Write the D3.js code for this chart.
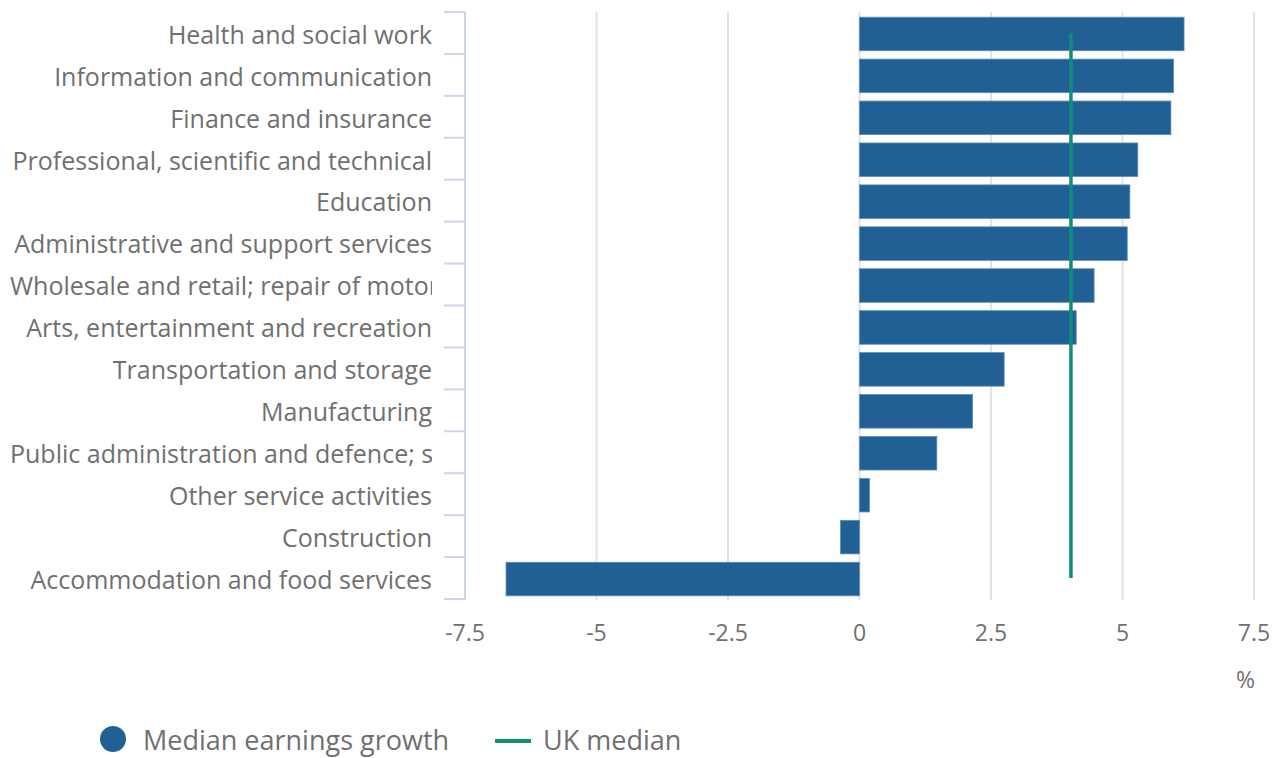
<!DOCTYPE html>
<html><head><meta charset="utf-8">
<script src="https://cdn.jsdelivr.net/npm/d3@7"></script>
<style>
body{margin:0;background:#fff;}
text{font-family:"Open Sans",sans-serif;}
</style></head>
<body><svg id="chart" width="1282" height="758"></svg>
<script>
const categories = [
  "Health and social work",
  "Information and communication",
  "Finance and insurance",
  "Professional, scientific and technical",
  "Education",
  "Administrative and support services",
  "Wholesale and retail; repair of motor vehicles and motorcycles",
  "Arts, entertainment and recreation",
  "Transportation and storage",
  "Manufacturing",
  "Public administration and defence; social security",
  "Other service activities",
  "Construction",
  "Accommodation and food services"
];
const growthValues = [6.17, 5.97, 5.92, 5.29, 5.14, 5.09, 4.46, 4.12, 2.75, 2.15, 1.47, 0.19, -0.36, -6.72];
const ukMedian = 4.02;
const xTicks = [-7.5, -5, -2.5, 0, 2.5, 5, 7.5];
const seriesNames = ["Median earnings growth", "UK median"];

const svg = d3.select("#chart");
const x = d3.scaleLinear().domain([-7.5, 7.5]).range([465, 1254]);
const y = d3.scaleBand().domain(categories).range([13, 600]).paddingInner(0.2).paddingOuter(0.1);
const band = d3.scaleBand().domain(categories).range([12, 599]);

// gridlines
svg.append("g").selectAll("line").data(xTicks).join("line")
  .attr("x1", d => x(d)).attr("x2", d => x(d))
  .attr("y1", 12).attr("y2", 600)
  .attr("stroke", "#e3e3e3").attr("stroke-width", 2);

// bars
svg.append("g").selectAll("rect").data(growthValues).join("rect")
  .attr("x", d => x(Math.min(0, d)))
  .attr("width", d => Math.abs(x(d) - x(0)))
  .attr("y", (d, i) => y(categories[i]))
  .attr("height", y.bandwidth())
  .attr("fill", "#206095")
  .attr("stroke", "#5f8cb8").attr("stroke-width", 0.8);

// UK median line
svg.append("line")
  .attr("x1", x(ukMedian)).attr("x2", x(ukMedian))
  .attr("y1", band(categories[0]) + band.bandwidth() / 2)
  .attr("y2", band(categories[categories.length - 1]) + band.bandwidth() / 2)
  .attr("stroke", "#118c7b").attr("stroke-width", 3.5);

// y axis
const yAxis = svg.append("g");
yAxis.append("line").attr("x1", 465).attr("x2", 465).attr("y1", 12).attr("y2", 599)
  .attr("stroke", "#ccd6eb").attr("stroke-width", 2);
const tickPos = band.domain().map(c => band(c)).concat([599]);
yAxis.selectAll("line.tk").data(tickPos).join("line").attr("class", "tk")
  .attr("x1", 444).attr("x2", 465).attr("y1", d => d).attr("y2", d => d)
  .attr("stroke", "#ccd6eb").attr("stroke-width", 2);

svg.append("clipPath").attr("id", "lblclip").append("rect")
  .attr("x", 0).attr("y", 0).attr("width", 432).attr("height", 620);
const lbl = svg.append("g").attr("clip-path", "url(#lblclip)");
lbl.selectAll("text").data(categories).join("text")
  .attr("x", 432).attr("y", d => band(d) + band.bandwidth() / 2 + 2)
  .attr("dy", "0.35em").attr("text-anchor", "end")
  .attr("font-size", 25).attr("fill", "#707070")
  .text(d => d)
  .each(function() {
    const w = this.getComputedTextLength();
    if (w > 423) d3.select(this).attr("x", 10).attr("text-anchor", "start");
  });

// x axis labels
svg.append("g").selectAll("text").data(xTicks).join("text")
  .attr("x", d => x(d)).attr("y", 633).attr("dy", "0.35em")
  .attr("text-anchor", "middle").attr("font-size", 23).attr("fill", "#707070")
  .text(d => String(d));
svg.append("text").attr("x", 1255).attr("y", 680).attr("dy", "0.35em")
  .attr("text-anchor", "end").attr("font-size", 23).attr("fill", "#707070").text("%");

// legend
const lg = svg.append("g");
lg.append("circle").attr("cx", 113).attr("cy", 739).attr("r", 13).attr("fill", "#206095");
lg.append("text").attr("x", 143).attr("y", 741).attr("dy", "0.35em")
  .attr("font-size", 27).attr("fill", "#707070").text(seriesNames[0]);
lg.append("line").attr("x1", 495).attr("x2", 531).attr("y1", 741).attr("y2", 741)
  .attr("stroke", "#118c7b").attr("stroke-width", 4);
lg.append("text").attr("x", 543).attr("y", 741).attr("dy", "0.35em")
  .attr("font-size", 27).attr("fill", "#707070").text(seriesNames[1]);
</script></body></html>
